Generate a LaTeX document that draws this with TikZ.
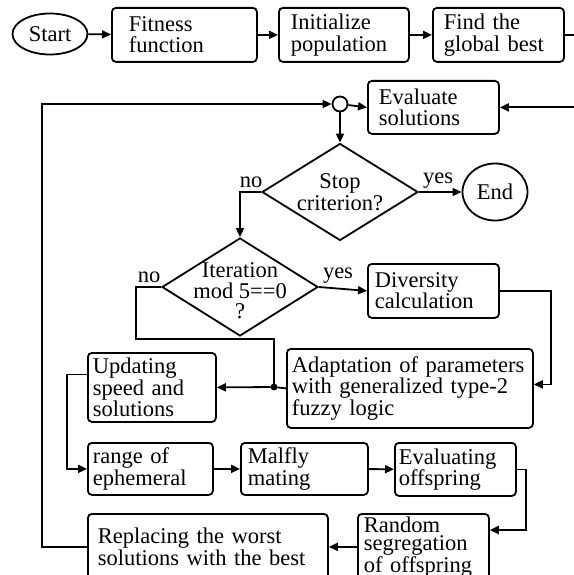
\documentclass[tikz,border=0pt]{standalone}
\usepackage{fontspec}
\setmainfont{Liberation Serif}
\usepackage{tikz}
\usetikzlibrary{arrows.meta, shapes.geometric}

\tikzset{
  every node/.style={font=\fontsize{22.5}{21.5}\selectfont},
  box/.style={draw, rounded corners=4pt, align=left, anchor=north west, inner ysep=2pt},
  decision/.style={draw, diamond, inner sep=0pt},
  oval/.style={draw, ellipse, inner sep=0pt},
  lbl/.style={anchor=base, inner sep=0pt},
  arr/.style={-{Triangle[length=9pt,width=8pt]}},
}

\begin{document}
\begin{tikzpicture}[x=1pt, y=-1pt, line width=1.8pt]
    \useasboundingbox (0,0) rectangle (573,575);

    % top row
    \node[oval, minimum width=75pt, minimum height=41pt] (start) at (50,34) {Start};
    \node[box, text width=111pt, inner xsep=17pt, minimum height=54pt] (fit) at (111,7) {Fitness\\function};
    \node[box, text width=106pt, inner xsep=12pt, minimum height=54pt] (init) at (278,7) {Initialize\\population};
    \node[box, text width=109pt, inner xsep=11pt, minimum height=54pt] (find) at (432,7) {Find the\\global best};

    % main loop
    \node[draw, circle, minimum size=15pt, inner sep=0pt] (jn) at (340,104) {};
    \node[box, text width=109pt, inner xsep=11pt, minimum height=53pt] (eval) at (367,80) {Evaluate\\solutions};
    \node[decision, minimum width=156pt, minimum height=97pt] (stop) at (340,192) {};
    \node[align=center] (stopq) at (340,192) {Stop\\criterion?};
    \node[oval, minimum width=65pt, minimum height=57pt] (end) at (495,192) {End};
    \node[decision, minimum width=156pt, minimum height=98pt] (iter) at (240,287) {};
    \node[align=center, font=\fontsize{22.5}{20.5}\selectfont] (iterq) at (240,291) {Iteration\\mod 5==0\\?};
    \node[box, text width=117pt, inner xsep=7pt, minimum height=54pt] (div) at (367,263) {Diversity\\calculation};
    \node[box, text width=236pt, inner xsep=5pt, minimum height=79pt] (adapt) at (286,348) {Adaptation of parameters\\with generalized type-2\\fuzzy logic};
    \node[box, text width=118pt, inner xsep=5pt, minimum height=69pt] (upd) at (87,352) {Updating\\speed and\\solutions};
    \node[draw, circle, fill, minimum size=5pt, inner sep=0pt] (dot) at (274,387) {};

    % bottom rows
    \node[box, text width=115pt, inner xsep=5pt, minimum height=52pt] (range) at (87,442) {range of\\ephemeral};
    \node[box, text width=113pt, inner xsep=7pt, minimum height=52pt] (mal) at (240,442) {Malfly\\mating};
    \node[box, text width=113pt, inner xsep=4pt, minimum height=53pt] (evo) at (394,442) {Evaluating\\offspring};
    \node[box, text width=119pt, inner xsep=6pt, inner ysep=0pt, minimum height=66pt,
          font=\fontsize{22.5}{18.5}\selectfont] (rand) at (357,513) {Random\\segregation\\of offspring};
    \node[box, text width=220pt, inner xsep=10pt, minimum height=66pt] (repl) at (87,513) {Replacing the worst\\solutions with the best};

    \node[lbl] (no1) at (251,187) {no};
    \node[lbl] (yes1) at (438,183) {yes};
    \node[lbl] (no2) at (149,282) {no};
    \node[lbl] (yes2) at (338,278) {yes};

    \coordinate (rt) at (578,70);
    \coordinate (lft) at (42,300);
    \coordinate (c1) at (136,339);
    \coordinate (dv) at (551,330);
    \coordinate (c2) at (67,420);
    \coordinate (c3) at (526,530);

    \draw[arr] (start) -- (fit);
    \draw[arr] (fit) -- (init);
    \draw[arr] (init) -- (find);
    \draw[arr] (find.east) -| (rt) |- (eval.east);
    \draw[arr] (repl.west) -| (lft) |- (jn.west);
    \draw[arr] (jn) -- (eval.west);
    \draw[arr] (jn) -- (stop.north);
    \draw[arr] (stop.east) -- (end.west);
    \draw[arr] (stop.west) -| (iter.north);
    \draw[arr] (iter.east) -- (div.west);
    \draw[arr] (div.east) -| (dv) |- ([yshift=4pt]adapt.east);
    \draw (iter.west) -| (c1) -| (dot);
    \draw (adapt.west) -- (dot);
    \draw[arr] (dot) -- (upd.east);
    \draw[arr] ([yshift=13pt]upd.west) -| (c2) |- (range.west);
    \draw[arr] (range) -- (mal);
    \draw[arr] (mal) -- (evo);
    \draw[arr] (evo.east) -| (c3) -- (c3 -| rand.east);
    \draw[arr] (rand.west) -- (rand.west -| repl.east);
  \end{tikzpicture}
\end{document}
